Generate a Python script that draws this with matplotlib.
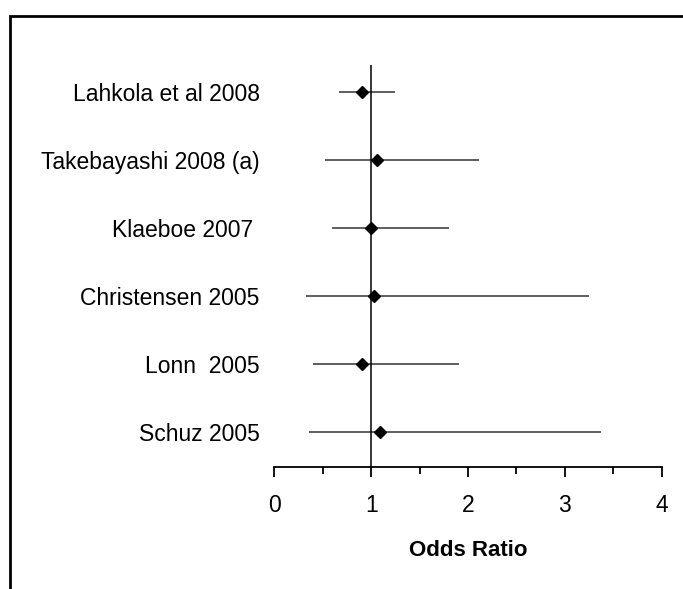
import matplotlib
matplotlib.use("Agg")
import matplotlib.pyplot as plt
from matplotlib.patches import Rectangle

plt.rcParams['font.family'] = ['Liberation Sans', 'DejaVu Sans']

studies = ["Lahkola et al 2008", "Takebayashi 2008 (a)", "Klaeboe 2007 ",
           "Christensen 2005", "Lonn  2005", "Schuz 2005"]
odds = [0.91, 1.06, 1.00, 1.03, 0.91, 1.09]
lower = [0.67, 0.52, 0.60, 0.33, 0.40, 0.36]
upper = [1.25, 2.11, 1.80, 3.25, 1.91, 3.37]
xticks = [0, 1, 2, 3, 4]

fig = plt.figure(figsize=(6.83, 5.89), dpi=100)
ax = fig.add_axes([274.3/683, 1 - 467.3/589, (661.7 - 274.3)/683, (467.3 - 65)/589])

ypos = list(range(len(studies), 0, -1))
ax.hlines(ypos, lower, upper, color='#333333', lw=1.1)
ax.plot(odds, ypos, 'D', color='black', ms=6.5, ls='none', zorder=3)
ax.axvline(1, color='black', lw=1.1)

ax.set_xlim(0, 4)
ax.set_ylim(0.486, 6.39)
ax.set_xticks(xticks)
ax.set_xticks([0.5, 1.5, 2.5, 3.5], minor=True)
ax.set_xticklabels([str(t) for t in xticks], fontsize=16.5)
ax.tick_params(axis='x', which='major', length=7, width=1.3, pad=12, direction='out')
ax.tick_params(axis='x', which='minor', length=5, width=1.3, direction='out')
ax.set_yticks(ypos)
ax.set_yticklabels(studies, fontsize=16.5)
ax.tick_params(axis='y', left=False, pad=7)

for s in ['top', 'right', 'left']:
    ax.spines[s].set_visible(False)
ax.spines['bottom'].set_linewidth(1.3)

ax.set_xlabel("Odds Ratio", fontsize=16, fontweight='bold', labelpad=17)

fig.add_artist(Rectangle((10/683, -0.2), 1.2, 1.2 - 16/589 , transform=fig.transFigure,
                         fill=False, lw=2, edgecolor='black'))

fig.savefig("out.png", dpi=100)
